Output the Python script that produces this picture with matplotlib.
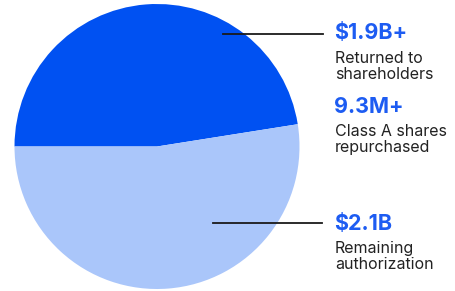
import matplotlib
matplotlib.use("Agg")
import matplotlib.pyplot as plt
from matplotlib.lines import Line2D

# Data
segments = ["Returned to shareholders", "Remaining authorization"]
values = [1.9, 2.1]  # $B
headlines = ["$1.9B+", "9.3M+", "$2.1B"]
sublabels = ["Returned to\nshareholders", "Class A shares\nrepurchased", "Remaining\nauthorization"]

colors = ["#0051F2", "#AAC6FA"]
W, H = 456, 291
fig = plt.figure(figsize=(W / 100, H / 100), dpi=100)
fig.patch.set_facecolor("white")

cx, cy, r = 157, 146.5, 142.5  # pixel coordinates (from top)
ax = fig.add_axes([(cx - r) / W, (H - cy - r) / H, 2 * r / W, 2 * r / H])
ax.pie(values, colors=colors, startangle=180, counterclock=False, radius=1,
       wedgeprops=dict(linewidth=0))
ax.set_xlim(-1, 1)
ax.set_ylim(-1, 1)
ax.set_aspect("equal")
ax.axis("off")

def fx(x):
    return x / W

def fy(y):
    return (H - y) / H

# leader lines
fig.add_artist(Line2D([fx(223), fx(323)], [fy(34), fy(34)], color="#1a1a1a", lw=1.3))
fig.add_artist(Line2D([fx(213), fx(322)], [fy(223), fy(223)], color="#1a1a1a", lw=1.3))

font = ["Inter", "DejaVu Sans"]
head_base = [39, 113, 230]
body_base = [(63, 79), (136, 152), (253, 269)]
tx = 334
for hb, head, sub, bb in zip(head_base, headlines, sublabels, body_base):
    fig.text(fx(tx), fy(hb), head, family=font, weight="bold", fontsize=15.5,
             color="#1D5CF2", va="baseline", ha="left")
    for line, b in zip(sub.split("\n"), bb):
        fig.text(fx(tx + 1), fy(b), line, family=font, fontsize=11.5,
                 color="#222222", va="baseline", ha="left")

fig.savefig("out.png", dpi=100, facecolor="white")
